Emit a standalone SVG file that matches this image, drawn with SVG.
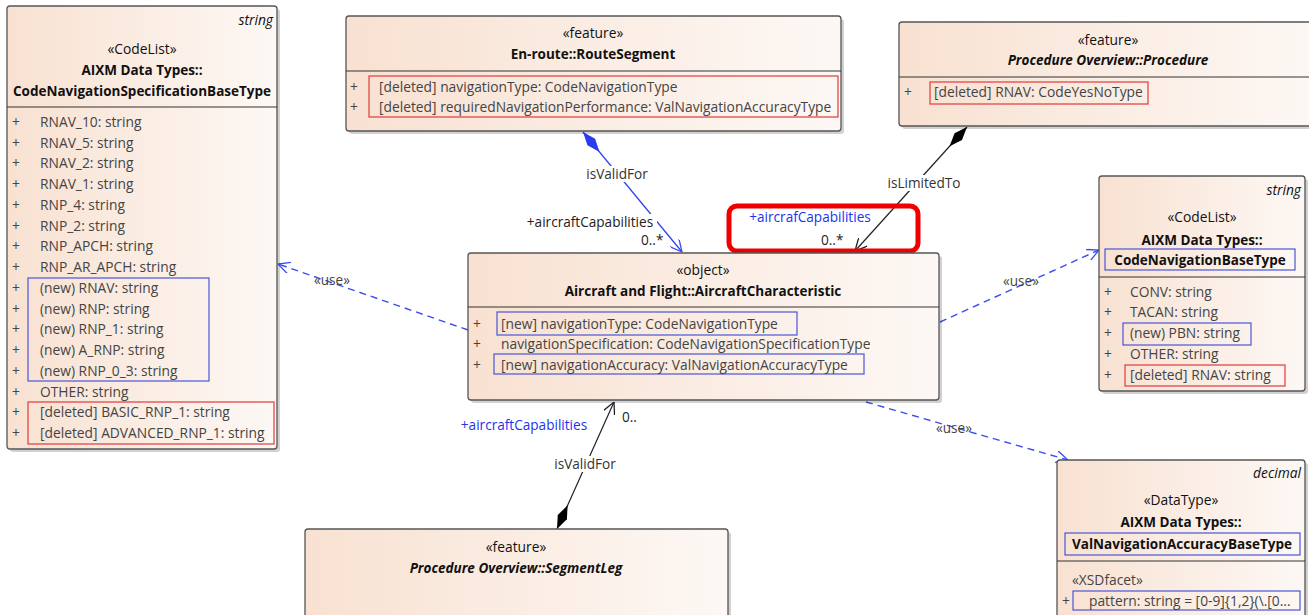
<svg xmlns="http://www.w3.org/2000/svg" width="1309" height="615" viewBox="0 0 1309 615">
<defs>
<linearGradient id="g" x1="0" y1="0" x2="1" y2="0">
<stop offset="0" stop-color="#f8e1d1"/>
<stop offset="1" stop-color="#fdf8f5"/>
</linearGradient>
<marker id="aBlue" viewBox="0 0 12 12" refX="12" refY="6" markerWidth="12" markerHeight="12" markerUnits="userSpaceOnUse" orient="auto"><path d="M0,0 L12,6 L0,12" fill="none" stroke="#3b4cf0" stroke-width="1.3"/></marker>
<marker id="aBlack" viewBox="0 0 12 12" refX="12" refY="6" markerWidth="12" markerHeight="12" markerUnits="userSpaceOnUse" orient="auto"><path d="M0,0 L12,6 L0,12" fill="none" stroke="#222" stroke-width="1.3"/></marker>
<marker id="dBlue" viewBox="0 0 26 12" refX="0" refY="6" markerWidth="26" markerHeight="12" markerUnits="userSpaceOnUse" orient="auto"><path d="M0,6 L13,1 L26,6 L13,11 Z" fill="#2b3cf0"/></marker>
<marker id="dBlack" viewBox="0 0 26 12" refX="0" refY="6" markerWidth="26" markerHeight="12" markerUnits="userSpaceOnUse" orient="auto"><path d="M0,6 L13,1 L26,6 L13,11 Z" fill="#000"/></marker>
</defs>
<style>
.box{fill:url(#g);stroke:#555;stroke-width:1.3}
.sh{fill:#000;opacity:0.18}
.sep{stroke:#333;stroke-width:1.2}
text{font-family:"Open Sans","Noto Sans","Liberation Sans",sans-serif;font-size:13.8px;fill:#444}
.h{fill:#111;text-anchor:middle}
.b{font-weight:bold;font-size:13.5px;fill:#111;text-anchor:middle}
.bi{font-weight:bold;font-size:13.5px;font-style:italic;fill:#111;text-anchor:middle}
.it{font-style:italic;fill:#111;text-anchor:end}
.lb{fill:#222}
.nb{fill:none;stroke:#4a55d8;stroke-width:1.2}
.rb{fill:none;stroke:#e03a3a;stroke-width:1.2}
.dep{fill:none;stroke:#3b4cf0;stroke-width:1.4;stroke-dasharray:7,5}
.bg{fill:#fff}
.cl{font-size:13.6px}
</style>

<g id="connectors">
<path d="M583,132 L682,252" fill="none" stroke="#3344ee" stroke-width="1.3" marker-start="url(#dBlue)" marker-end="url(#aBlue)"/>
<path d="M967,127 L855,251" fill="none" stroke="#222" stroke-width="1.2" marker-start="url(#dBlack)" marker-end="url(#aBlack)"/>
<path d="M557,529 L614,402" fill="none" stroke="#222" stroke-width="1.2" marker-start="url(#dBlack)" marker-end="url(#aBlack)"/>
<path class="dep" d="M468,330 L278,264" marker-end="url(#aBlue)"/>
<path class="dep" d="M940,322 L1099,250" marker-end="url(#aBlue)"/>
<path class="dep" d="M866,402 L1068,460" marker-end="url(#aBlue)"/>
<rect class="bg" x="583" y="166" width="70" height="16"/>
<text x="617" y="179" class="h cl" style="fill:#333">isValidFor</text>
<rect class="bg" x="523" y="214" width="134" height="16"/>
<text x="590" y="227" class="h cl" style="fill:#222">+aircraftCapabilities</text>
<text x="641" y="245" class="lb cl">0..*</text>
<rect class="bg" x="884" y="175" width="80" height="16"/>
<text x="924" y="188" class="h cl" style="fill:#333">isLimitedTo</text>
<rect x="729" y="206" width="189" height="45" rx="8" fill="none" stroke="#ee0000" stroke-width="5"/>
<text x="810" y="222" class="h cl" style="fill:#2233ee">+aircrafCapabilities</text>
<text x="821" y="245" class="lb cl">0..*</text>
<text x="524" y="430" class="h cl" style="fill:#2233ee">+aircraftCapabilities</text>
<text x="622" y="422" class="lb cl">0..</text>
<rect class="bg" x="550" y="456" width="70" height="16"/>
<text x="585" y="469" class="h cl" style="fill:#333">isValidFor</text>
<text x="332" y="285" class="h cl" style="fill:#444">«use»</text>
<text x="1021" y="286" class="h cl" style="fill:#444">«use»</text>
<text x="954" y="433" class="h cl" style="fill:#444">«use»</text>
</g>

<g id="node-codenavspec">
<rect class="sh" x="10" y="9" width="270" height="443" rx="3"/>
<rect class="box" x="7" y="6" width="270" height="443" rx="3"/>
<line class="sep" x1="7" y1="107" x2="277" y2="107"/>
<text x="273" y="25" class="it">string</text>
<text x="142" y="54" class="h">«CodeList»</text>
<text x="142" y="75" class="b">AIXM Data Types::</text>
<text x="142" y="96" class="b">CodeNavigationSpecificationBaseType</text>
<rect class="nb" x="28" y="278" width="181" height="103"/>
<rect class="rb" x="28" y="402" width="246" height="42"/>
<text x="12" y="127">+</text><text x="40" y="127">RNAV_10: string</text>
<text x="12" y="148">+</text><text x="40" y="148">RNAV_5: string</text>
<text x="12" y="168">+</text><text x="40" y="168">RNAV_2: string</text>
<text x="12" y="189">+</text><text x="40" y="189">RNAV_1: string</text>
<text x="12" y="210">+</text><text x="40" y="210">RNP_4: string</text>
<text x="12" y="231">+</text><text x="40" y="231">RNP_2: string</text>
<text x="12" y="251">+</text><text x="40" y="251">RNP_APCH: string</text>
<text x="12" y="272">+</text><text x="40" y="272">RNP_AR_APCH: string</text>
<text x="12" y="293">+</text><text x="40" y="293">(new) RNAV: string</text>
<text x="12" y="314">+</text><text x="40" y="314">(new) RNP: string</text>
<text x="12" y="334">+</text><text x="40" y="334">(new) RNP_1: string</text>
<text x="12" y="355">+</text><text x="40" y="355">(new) A_RNP: string</text>
<text x="12" y="376">+</text><text x="40" y="376">(new) RNP_0_3: string</text>
<text x="12" y="397">+</text><text x="40" y="397">OTHER: string</text>
<text x="12" y="417">+</text><text x="40" y="417">[deleted] BASIC_RNP_1: string</text>
<text x="12" y="438">+</text><text x="40" y="438">[deleted] ADVANCED_RNP_1: string</text>
</g>

<g id="node-routesegment">
<rect class="sh" x="349" y="19" width="495" height="115" rx="3"/>
<rect class="box" x="346" y="16" width="495" height="115" rx="3"/>
<line class="sep" x1="346" y1="71" x2="841" y2="71"/>
<text x="593" y="38" class="h">«feature»</text>
<text x="593" y="59" class="b">En-route::RouteSegment</text>
<rect class="rb" x="369" y="76" width="469" height="41"/>
<text x="350" y="92">+</text><text x="379" y="92">[deleted] navigationType: CodeNavigationType</text>
<text x="350" y="112">+</text><text x="379" y="112">[deleted] requiredNavigationPerformance: ValNavigationAccuracyType</text>
</g>

<g id="node-procedure">
<rect class="sh" x="902" y="25" width="420" height="104" rx="3"/>
<rect class="box" x="899" y="22" width="420" height="104" rx="3"/>
<line class="sep" x1="899" y1="77" x2="1309" y2="77"/>
<text x="1108" y="45" class="h">«feature»</text>
<text x="1108" y="65" class="bi">Procedure Overview::Procedure</text>
<rect class="rb" x="930" y="82" width="218" height="22"/>
<text x="904" y="97">+</text><text x="934" y="97">[deleted] RNAV: CodeYesNoType</text>
</g>

<g id="node-aircraftcharacteristic">
<rect class="sh" x="471" y="256" width="471" height="147" rx="3"/>
<rect class="box" x="468" y="253" width="471" height="147" rx="3"/>
<line class="sep" x1="468" y1="307" x2="939" y2="307"/>
<text x="703" y="275" class="h">«object»</text>
<text x="703" y="296" class="b">Aircraft and Flight::AircraftCharacteristic</text>
<rect class="nb" x="497" y="312" width="300" height="23"/>
<rect class="nb" x="494" y="354" width="370" height="20"/>
<text x="473" y="329">+</text><text x="501" y="329">[new] navigationType: CodeNavigationType</text>
<text x="473" y="349">+</text><text x="501" y="349">navigationSpecification: CodeNavigationSpecificationType</text>
<text x="473" y="370">+</text><text x="501" y="370">[new] navigationAccuracy: ValNavigationAccuracyType</text>
</g>

<g id="node-codenavbase">
<rect class="sh" x="1102" y="179" width="206" height="215" rx="3"/>
<rect class="box" x="1099" y="176" width="206" height="215" rx="3"/>
<line class="sep" x1="1099" y1="277" x2="1305" y2="277"/>
<text x="1301" y="195" class="it">string</text>
<text x="1202" y="222" class="h">«CodeList»</text>
<text x="1202" y="245" class="b">AIXM Data Types::</text>
<rect class="nb" x="1105" y="249" width="190" height="21"/>
<text x="1200" y="265" class="b">CodeNavigationBaseType</text>
<rect class="nb" x="1123" y="323" width="128" height="22"/>
<rect class="rb" x="1125" y="365" width="160" height="21"/>
<text x="1104" y="297">+</text><text x="1130" y="297">CONV: string</text>
<text x="1104" y="317">+</text><text x="1130" y="317">TACAN: string</text>
<text x="1104" y="338">+</text><text x="1130" y="338">(new) PBN: string</text>
<text x="1104" y="359">+</text><text x="1130" y="359">OTHER: string</text>
<text x="1104" y="380">+</text><text x="1130" y="380">[deleted] RNAV: string</text>
</g>

<g id="node-valnavaccuracy">
<rect class="sh" x="1060" y="463" width="248" height="170" rx="3"/>
<rect class="box" x="1057" y="460" width="248" height="170" rx="3"/>
<line class="sep" x1="1057" y1="561" x2="1305" y2="561"/>
<text x="1301" y="478" class="it">decimal</text>
<text x="1181" y="505" class="h">«DataType»</text>
<text x="1181" y="527" class="b">AIXM Data Types::</text>
<rect class="nb" x="1065" y="533" width="235" height="22"/>
<text x="1182" y="549" class="b">ValNavigationAccuracyBaseType</text>
<text x="1072" y="585">«XSDfacet»</text>
<rect class="nb" x="1073" y="591" width="227" height="19"/>
<text x="1062" y="606">+</text><text x="1089" y="606">pattern: string = [0-9]{1,2}(\.[0...</text>
</g>

<g id="node-segmentleg">
<rect class="sh" x="308" y="532" width="423" height="100" rx="3"/>
<rect class="box" x="305" y="529" width="423" height="100" rx="3"/>
<text x="516" y="552" class="h">«feature»</text>
<text x="516" y="573" class="bi">Procedure Overview::SegmentLeg</text>
</g>
</svg>
